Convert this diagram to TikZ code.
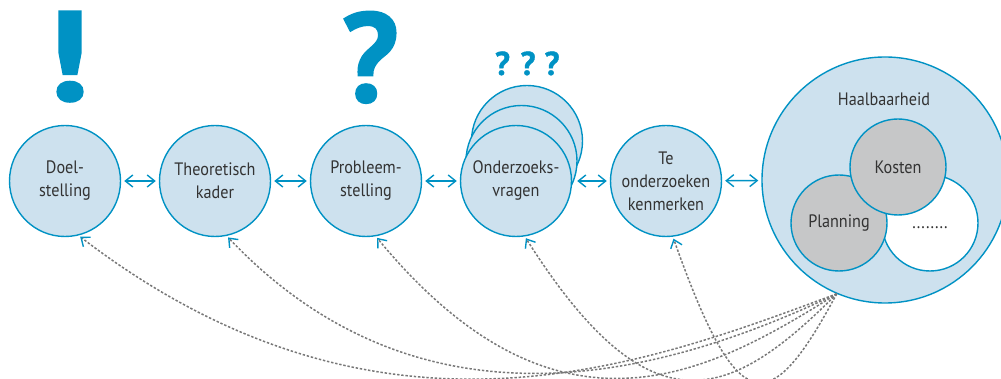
\documentclass[tikz,border=0pt]{standalone}
\usepackage{fontspec}
\setmainfont{PT Sans}[FakeStretch=0.9]
\newfontfamily\markfont{PT Sans}[FakeBold=1.2]
\newfontfamily\widemarkfont{PT Sans}[FakeStretch=1.2,FakeBold=2.2]
\usetikzlibrary{arrows.meta}
\definecolor{hublue}{RGB}{0,146,196}
\definecolor{hufill}{RGB}{205,225,238}
\definecolor{hugray}{RGB}{198,199,200}
\definecolor{hutext}{RGB}{51,51,51}
\definecolor{hudots}{RGB}{120,120,120}
\begin{document}
\begin{tikzpicture}[x=1pt,y=-1pt,
  bub/.style={circle,draw=hublue,fill=hufill,line width=1.4pt,minimum size=111pt,
    inner sep=0pt,align=center,text=hutext,font=\fontsize{18}{23}\selectfont},
  sub/.style={bub,minimum size=96pt},
  lbl/.style={text=hutext,font=\fontsize{18}{23}\selectfont,inner sep=0pt},
  link/.style={hublue,line width=1.4pt,
    {Straight Barb[length=7.5pt,width=12pt]}-{Straight Barb[length=7.5pt,width=12pt]},
    shorten <=3pt,shorten >=3pt},
  back/.style={draw=hudots,line width=1.5pt,dash pattern=on 2.4pt off 1.8pt,
    -{Straight Barb[length=7.5pt,width=12pt,color=hublue,line width=1.4pt]},shorten >=2pt},
  bigmark/.style={text=hublue,inner sep=0pt,anchor=base}
]
\useasboundingbox (0,0) rectangle (1001,379);
\clip (0,0) rectangle (1001,379);

% exclamation and question marks
\node[bigmark,font=\widemarkfont\bfseries\fontsize{126}{126}\selectfont] (excl) at (67,100) {!};
\node[bigmark,font=\markfont\bfseries\fontsize{127}{127}\selectfont] (quest) at (370,102) {?};
\node[bigmark,font=\markfont\bfseries\fontsize{33}{33}\selectfont] (qa) at (502.5,75) {?};
\node[bigmark,font=\markfont\bfseries\fontsize{33}{33}\selectfont] (qb) at (528,75) {?};
\node[bigmark,font=\markfont\bfseries\fontsize{33}{33}\selectfont] (qc) at (552,75) {?};

% chain of circles
\node[bub] (doel) at (65,181) {Doel-\\stelling};
\node[bub] (theo) at (215,181) {Theoretisch\\kader};
\node[bub] (prob) at (366,181) {Probleem-\\stelling};
\node[bub] (q3) at (527,141) {};
\node[bub] (q2) at (521.5,161) {};
\node[bub] (q1) at (516,181) {Onderzoeks-\\vragen};
\node[bub] (te) at (666,181) {Te\\onderzoeken\\kenmerken};

% feasibility circle with its parts
\node[bub,minimum size=246pt] (hb) at (885,180) {};
\node[lbl] (hbt) at (884,99) {Haalbaarheid};
\node[sub,fill=white,text height=13pt,text depth=1pt] (etc) at (930,223) {........};
\node[sub,fill=hugray] (plan) at (839,223) {Planning};
\node[sub,fill=hugray] (kost) at (898,167) {Kosten};

% links between neighbours
\draw[link] (doel) -- (theo);
\draw[link] (theo) -- (prob);
\draw[link] (prob) -- (q1);
\draw[link,shorten <=5pt] (q1) -- (te);
\draw[link] (te) -- (hb);

% feedback from feasibility
\draw[back] (hb.247) .. controls (647,364) and (382,468) .. (doel.-76);
\draw[back] (hb.247) .. controls (672,372) and (426,446) .. (theo.-78);
\draw[back] (hb.247) .. controls (708,375) and (557,456) .. (prob.-80);
\draw[back] (hb.247) .. controls (729,402) and (650,434) .. (q1.-81.5);
\draw[back] (hb.247) .. controls (769,420) and (738,420) .. (te.-83);
\end{tikzpicture}
\end{document}
